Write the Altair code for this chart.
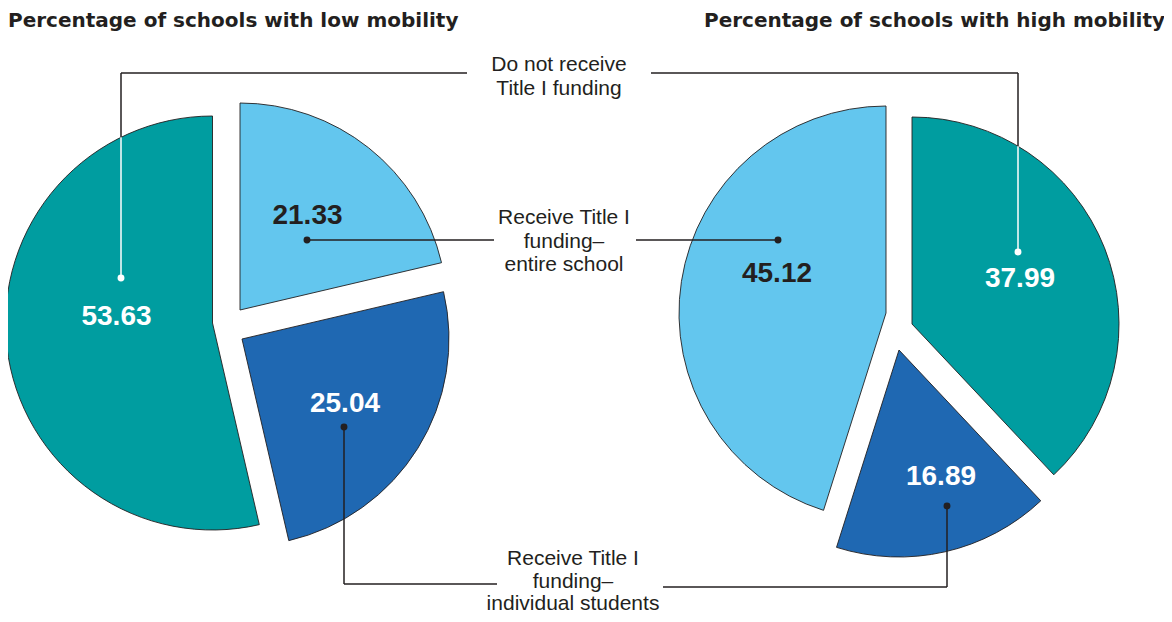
import math
import altair as alt
import pandas as pd

# ---------------- data ----------------
categories = ["notreceive", "entire", "individual"]
category_labels = ["Do not receive\nTitle I funding",
                   "Receive Title I\nfunding–\nentire school",
                   "Receive Title I\nfunding–\nindividual students"]
low_values = [53.63, 21.33, 25.04]
high_values = [37.99, 45.12, 16.89]
value_labels_low = ["53.63", "21.33", "25.04"]
value_labels_high = ["37.99", "45.12", "16.89"]
titles = ["Percentage of schools with low mobility", "Percentage of schools with high mobility"]

# slice order (clockwise from 12 o'clock)
low_order = ["entire", "individual", "notreceive"]
high_order = ["notreceive", "individual", "entire"]

# ---------------- style / layout ----------------
colors = {"notreceive": "#009DA0", "entire": "#63C6EE", "individual": "#1F68B2"}
label_color = {"notreceive": "#FFFFFF", "entire": "#231F20", "individual": "#FFFFFF"}
DARK = "#231F20"
RADIUS = 207
pie_center = {"low": (231.0, 324.0), "high": (899.0, 329.0)}
explode = {
    ("low", "notreceive"): (-18.5, -1.0), ("low", "entire"): (9.0, -14.0), ("low", "individual"): (11.0, 15.0),
    ("high", "entire"): (-13.0, -16.0), ("high", "notreceive"): (13.0, -5.0), ("high", "individual"): (0.0, 21.0),
}
value_label_pos = {
    ("low", "notreceive"): (116.5, 325), ("low", "entire"): (307.5, 224), ("low", "individual"): (345, 412),
    ("high", "notreceive"): (1020, 287), ("high", "entire"): (777, 282), ("high", "individual"): (941, 485),
}
dot_pos = {
    ("low", "notreceive"): (121, 278), ("low", "entire"): (307, 240), ("low", "individual"): (344, 427),
    ("high", "notreceive"): (1018, 252), ("high", "entire"): (778, 240), ("high", "individual"): (947, 506),
}
cat_label_pos = {"notreceive": (559, 71), "entire": (564, 224), "individual": (573, 565)}
cat_line_height = {"notreceive": 23.5, "entire": 23.5, "individual": 22.5}
line_y = {"notreceive": (73, 73), "entire": (240, 240), "individual": (584, 587)}
line_gap = {"notreceive": (467, 651), "entire": (494, 636), "individual": (497, 663)}

W, H = 1156, 606
xs = alt.Scale(domain=[8, 8 + W], range=[0, W])
ys = alt.Scale(domain=[8, 8 + H], range=[0, H])

# ---------------- slices ----------------
rows = []
for pie, vals, order, vlabels in [("low", low_values, low_order, value_labels_low),
                                   ("high", high_values, high_order, value_labels_high)]:
    for cat, v, vl in zip(categories, vals, vlabels):
        cx, cy = pie_center[pie]
        dx, dy = explode[(pie, cat)]
        lx, ly = value_label_pos[(pie, cat)]
        rows.append(dict(pie=pie, cat=cat, value=v, order=order.index(cat),
                         color=colors[cat], ax=cx + dx, ay=cy + dy,
                         label=vl, lx=lx, ly=ly, lcolor=label_color[cat]))
slices = pd.DataFrame(rows)

arcs = (
    alt.Chart(slices)
    .transform_window(cum="sum(value)", groupby=["pie"], sort=[alt.SortField("order")], frame=[None, 0])
    .transform_calculate(start="datum.cum - datum.value")
    .mark_arc(radius=RADIUS, stroke=DARK, strokeWidth=0.9)
    .encode(
        x=alt.X("ax:Q", scale=xs, axis=None),
        y=alt.Y("ay:Q", scale=ys, axis=None),
        theta=alt.Theta("start:Q", stack=None, scale=alt.Scale(domain=[0, 100], range=[0, 2 * math.pi])),
        theta2=alt.Theta2("cum:Q"),
        color=alt.Color("color:N", scale=None),
    )
)

value_text = (
    alt.Chart(slices)
    .mark_text(font="Liberation Sans", fontSize=28, fontWeight="bold", align="center", baseline="alphabetic")
    .encode(
        x=alt.X("lx:Q", scale=xs, axis=None),
        y=alt.Y("ly:Q", scale=ys, axis=None),
        text="label:N",
        color=alt.Color("lcolor:N", scale=None),
    )
)

# ---------------- leader lines ----------------
def arc_edge_y(pie, cat, x):
    cx, cy = pie_center[pie]
    dx, dy = explode[(pie, cat)]
    ax, ay = cx + dx, cy + dy
    return ay - math.sqrt(RADIUS ** 2 - (x - ax) ** 2)

segs = []
dots = []
for cat in categories:
    yl, yr = line_y[cat]
    gl, gr = line_gap[cat]
    (lxd, lyd), (rxd, ryd) = dot_pos[("low", cat)], dot_pos[("high", cat)]
    if cat == "notreceive":
        el = arc_edge_y("low", cat, lxd)
        er = arc_edge_y("high", cat, rxd)
        segs += [
            dict(x=lxd, y=yl, x2=gl, y2=yl, c=DARK),
            dict(x=lxd, y=yl, x2=lxd, y2=el, c=DARK),
            dict(x=lxd, y=el, x2=lxd, y2=lyd, c="#FFFFFF"),
            dict(x=gr, y=yr, x2=rxd, y2=yr, c=DARK),
            dict(x=rxd, y=yr, x2=rxd, y2=er, c=DARK),
            dict(x=rxd, y=er, x2=rxd, y2=ryd, c="#FFFFFF"),
        ]
        dots += [dict(x=lxd, y=lyd, c="#FFFFFF"), dict(x=rxd, y=ryd, c="#FFFFFF")]
    else:
        segs += [
            dict(x=lxd, y=lyd, x2=lxd, y2=yl, c=DARK),
            dict(x=lxd, y=yl, x2=gl, y2=yl, c=DARK),
            dict(x=gr, y=yr, x2=rxd, y2=yr, c=DARK),
            dict(x=rxd, y=yr, x2=rxd, y2=ryd, c=DARK),
        ]
        dots += [dict(x=lxd, y=lyd, c=DARK), dict(x=rxd, y=ryd, c=DARK)]

seg_df = pd.DataFrame(segs)
dot_df = pd.DataFrame(dots)

rules = (
    alt.Chart(seg_df)
    .mark_rule(strokeWidth=1.5)
    .encode(
        x=alt.X("x:Q", scale=xs, axis=None),
        y=alt.Y("y:Q", scale=ys, axis=None),
        x2="x2:Q",
        y2="y2:Q",
        color=alt.Color("c:N", scale=None),
    )
)

points = (
    alt.Chart(dot_df)
    .mark_circle(size=48, opacity=1)
    .encode(
        x=alt.X("x:Q", scale=xs, axis=None),
        y=alt.Y("y:Q", scale=ys, axis=None),
        color=alt.Color("c:N", scale=None),
    )
)

# ---------------- category labels ----------------
cat_layers = []
for c, t in zip(categories, category_labels):
    cat_layers.append(
        alt.Chart(pd.DataFrame([dict(text=t, x=cat_label_pos[c][0], y=cat_label_pos[c][1])]))
        .mark_text(font="Liberation Sans", fontSize=21, lineHeight=cat_line_height[c], lineBreak="\n",
                   align="center", baseline="alphabetic", color=DARK)
        .encode(
            x=alt.X("x:Q", scale=xs, axis=None),
            y=alt.Y("y:Q", scale=ys, axis=None),
            text="text:N",
        )
    )

# ---------------- titles ----------------
title_left = (
    alt.Chart(pd.DataFrame([dict(text=titles[0], x=8, y=27)]))
    .mark_text(font="DejaVu Sans", fontSize=20, fontWeight="bold", align="left", baseline="alphabetic", color=DARK)
    .encode(x=alt.X("x:Q", scale=xs, axis=None), y=alt.Y("y:Q", scale=ys, axis=None), text="text:N")
)
title_right = (
    alt.Chart(pd.DataFrame([dict(text=titles[1], x=1165, y=27)]))
    .mark_text(font="DejaVu Sans", fontSize=20, fontWeight="bold", align="right", baseline="alphabetic", color=DARK)
    .encode(x=alt.X("x:Q", scale=xs, axis=None), y=alt.Y("y:Q", scale=ys, axis=None), text="text:N")
)

chart = (
    alt.layer(arcs, rules, points, value_text, *cat_layers, title_left, title_right)
    .properties(width=W, height=H, autosize=alt.AutoSizeParams(type="none"), padding=0)
    .configure_view(strokeWidth=0)
)

chart.save("out.html", embed_options={"renderer": "svg", "actions": False})
